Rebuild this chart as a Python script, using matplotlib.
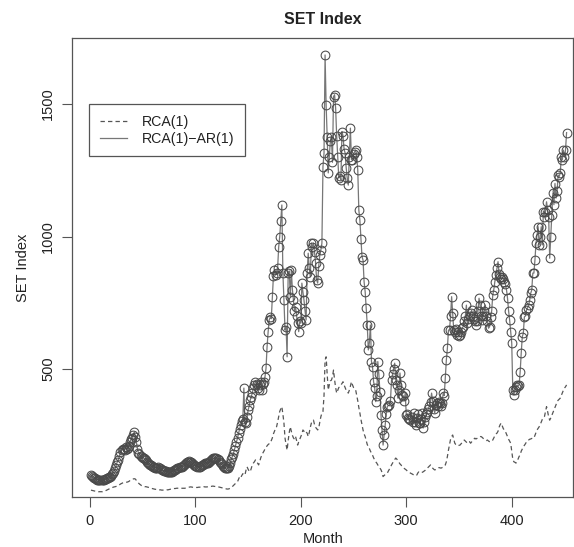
import numpy as np
import matplotlib
matplotlib.use("Agg")
import matplotlib.pyplot as plt

plt.rcParams['font.family'] = ['Liberation Sans', 'DejaVu Sans']

# fitted series RCA(1)-AR(1), one value per month
rca_ar = [
    100, 97, 93, 90, 87, 85, 83, 82, 81, 81,
    81, 82, 83, 84, 86, 88, 90, 92, 94, 97,
    102, 108, 115, 125, 138, 150, 158, 170, 185, 194,
    198, 200, 195, 205, 200, 202, 210, 225, 235, 240,
    250, 262, 245, 226, 200, 183, 178, 172, 168, 165,
    164, 160, 155, 150, 146, 142, 139, 136, 134, 132,
    130, 128, 127, 128, 130, 128, 124, 120, 118, 116,
    115, 114, 113, 112, 112, 111, 112, 113, 115, 118,
    120, 122, 125, 128, 130, 131, 132, 134, 138, 142,
    146, 149, 150, 152, 150, 148, 145, 142, 138, 135,
    133, 131, 130, 131, 133, 136, 139, 142, 145, 147,
    146, 145, 148, 152, 156, 160, 163, 164, 166, 164,
    160, 155, 150, 145, 140, 135, 132, 128, 127, 126,
    128, 135, 145, 160, 169, 180, 195, 210, 225, 240,
    258, 275, 290, 305, 310, 428, 300, 296, 320, 345,
    360, 383, 395, 410, 430, 440, 452, 445, 430, 421,
    440, 452, 421, 445, 452, 470, 503, 584, 640, 685,
    695, 690, 773, 850, 874, 855, 862, 880, 960, 1000,
    1060, 1119, 862, 760, 647, 660, 546, 862, 870, 773,
    874, 800, 760, 720, 735, 700, 673, 641, 680, 673,
    824, 790, 760, 720, 685, 862, 937, 880, 848, 975,
    960, 975, 940, 900, 836, 824, 890, 930, 950, 975,
    1263, 1315, 1685, 1496, 1377, 1240, 1300, 1360, 1377, 1280,
    1528, 1535, 1485, 1380, 1300, 1221, 1230, 1213, 1396, 1380,
    1330, 1315, 1260, 1220, 1194, 1300, 1409, 1290, 1289, 1310,
    1320, 1326, 1300, 1251, 1100, 1062, 990, 924, 911, 829,
    792, 730, 666, 572, 600, 666, 528, 509, 452, 430,
    377, 400, 528, 480, 414, 326, 270, 213, 250, 289,
    330, 358, 362, 364, 380, 458, 480, 500, 522, 458,
    440, 390, 420, 485, 440, 402, 400, 380, 409, 326,
    330, 315, 310, 307, 320, 300, 334, 300, 290, 315,
    330, 296, 296, 310, 334, 277, 300, 320, 330, 339,
    350, 360, 377, 409, 380, 350, 334, 364, 370, 360,
    377, 370, 360, 371, 409, 400, 466, 534, 579, 647,
    647, 700, 773, 711, 647, 640, 650, 630, 640, 625,
    628, 640, 655, 660, 680, 700, 741, 673, 690, 700,
    710, 722, 700, 690, 680, 666, 680, 720, 767, 740,
    700, 685, 700, 720, 741, 700, 680, 654, 660, 697,
    720, 779, 800, 830, 855, 880, 905, 860, 848, 840,
    848, 840, 829, 820, 800, 767, 720, 685, 640, 598,
    421, 402, 420, 433, 440, 435, 440, 490, 560, 622,
    635, 697, 700, 722, 730, 740, 760, 786, 798, 862,
    862, 911, 975, 1006, 1037, 968, 1000, 1037, 968, 1094,
    1075, 1094, 1131, 1100, 1075, 918, 1000, 1081, 1163, 1120,
    1200, 1145, 1170, 1232, 1226, 1240, 1301, 1290, 1326, 1300, 1326, 1392,
]

# fitted series RCA(1)
rca = [
    43, 42, 41, 40, 39, 38, 38, 37, 37, 37,
    37, 37, 38, 39, 41, 43, 45, 47, 49, 51,
    52, 54, 55, 56, 57, 58, 60, 63, 66, 68,
    70, 71, 72, 72, 73, 74, 76, 79, 82, 84,
    85, 86, 85, 80, 75, 70, 66, 63, 60, 58,
    57, 56, 56, 55, 54, 53, 52, 50, 49, 48,
    47, 46, 46, 45, 45, 44, 44, 43, 43, 43,
    43, 43, 44, 44, 45, 46, 47, 47, 48, 49,
    49, 50, 50, 51, 51, 50, 50, 50, 50, 50,
    51, 52, 53, 54, 55, 55, 54, 54, 53, 53,
    53, 53, 54, 54, 55, 55, 56, 56, 55, 55,
    55, 56, 56, 57, 57, 58, 58, 57, 57, 56,
    56, 55, 54, 53, 52, 51, 50, 49, 48, 47,
    47, 48, 50, 53, 56, 60, 64, 68, 72, 75,
    85, 94, 90, 98, 105, 100, 100, 118, 131, 122,
    115, 112, 125, 138, 145, 150, 157, 150, 145, 138,
    150, 165, 175, 183, 190, 198, 205, 210, 215, 218,
    220, 230, 240, 255, 265, 275, 282, 300, 320, 340,
    350, 358, 330, 296, 240, 215, 194, 230, 260, 282,
    265, 250, 240, 235, 245, 230, 213, 225, 235, 245,
    255, 270, 265, 258, 262, 258, 245, 260, 280, 296,
    300, 307, 290, 280, 275, 270, 277, 300, 320, 334,
    340, 400, 534, 546, 480, 421, 440, 455, 458, 470,
    496, 460, 430, 409, 420, 430, 433, 440, 445, 452,
    440, 430, 420, 415, 409, 420, 435, 452, 440, 430,
    425, 421, 400, 380, 355, 334, 310, 290, 270, 255,
    245, 230, 215, 207, 200, 190, 183, 175, 165, 157,
    150, 145, 138, 132, 126, 120, 110, 94, 98, 102,
    105, 107, 115, 122, 130, 138, 145, 152, 158, 164,
    160, 155, 148, 142, 138, 132, 128, 125, 122, 119,
    115, 112, 110, 107, 105, 103, 100, 100, 102, 100,
    108, 112, 110, 108, 110, 112, 115, 118, 122, 126,
    130, 134, 138, 132, 126, 122, 119, 121, 124, 126,
    128, 127, 126, 128, 130, 134, 138, 150, 170, 194,
    215, 235, 245, 251, 235, 220, 215, 212, 210, 212,
    213, 218, 222, 228, 232, 228, 224, 220, 222, 226,
    220, 225, 230, 235, 239, 236, 238, 241, 243, 245,
    245, 242, 238, 235, 232, 230, 232, 228, 226, 226,
    226, 232, 240, 248, 255, 258, 265, 280, 290, 296,
    285, 275, 270, 264, 255, 245, 235, 228, 220, 190,
    160, 150, 148, 145, 150, 160, 170, 176, 190, 198,
    207, 212, 218, 225, 230, 232, 235, 236, 238, 239,
    239, 250, 260, 270, 276, 282, 290, 300, 310, 315,
    320, 340, 358, 340, 320, 307, 315, 325, 334, 345,
    355, 365, 377, 382, 386, 390, 400, 410, 420, 428, 433, 440,
]

month = np.arange(1, len(rca_ar) + 1)
month2 = np.arange(1, len(rca) + 1)

fig = plt.figure(figsize=(5.74, 5.47), dpi=100)
ax = fig.add_axes([0.1254, 0.0914, 0.8736, 0.8391])

grey = '#555555'
ax.plot(month2, rca, color=grey, lw=0.9, ls=(0, (3.5, 2.5)), label='RCA(1)')
ax.plot(month, rca_ar, color='#777777', lw=0.9, label='RCA(1)\u2212AR(1)')
ax.plot(month, rca_ar, ls='none', marker='o', ms=6.3, mfc='none',
        mec='#4a4a4a', mew=0.75)

ax.set_xlim(-17, 458.5)
ax.set_ylim(17, 1749)
ax.set_xticks([0, 100, 200, 300, 400])
ax.set_yticks([500, 1000, 1500])
ax.set_yticklabels(['500', '1000', '1500'], rotation=90, va='center')
ax.tick_params(direction='out', length=7, width=0.8, colors=grey,
               labelcolor='#222222', labelsize=10.5, pad=5)
for s in ax.spines.values():
    s.set_color(grey)
    s.set_linewidth(0.9)

ax.set_xlabel('Month', fontsize=10.5, color='#222222', labelpad=3)
ax.set_ylabel('SET Index', fontsize=10.5, color='#222222', labelpad=8)
ax.set_title('SET Index', fontsize=11.5, fontweight='bold', color='#222222', pad=10)

leg = ax.legend(loc='upper left', bbox_to_anchor=(0.034, 0.856), borderaxespad=0,
                fancybox=False, edgecolor=grey, framealpha=1, fontsize=10.2,
                handlelength=1.9, handletextpad=1.05, borderpad=0.75,
                labelspacing=0.2)
leg.get_frame().set_linewidth(0.9)
for t in leg.get_texts():
    t.set_color('#222222')

fig.savefig('out.png', dpi=100)
